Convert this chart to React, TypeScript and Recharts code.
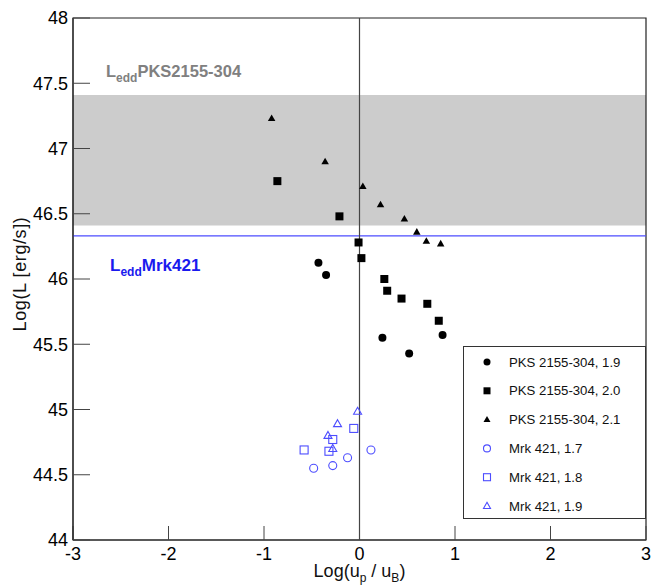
import { ScatterChart, Scatter, XAxis, YAxis, ReferenceArea, ReferenceLine, Legend, Label } from 'recharts';

const FONT = '"Liberation Sans", Arial, sans-serif';
const W = 652;
const H = 586;

// axis ticks: labelled majors, unlabelled minors
const X_MAJOR = [-3, -2, -1, 0, 1, 2, 3];
const Y_MAJOR = [44, 44.5, 45, 45.5, 46, 46.5, 47, 47.5, 48];
const X_MINOR = Array.from({ length: 31 }, (_, i) => +(-3 + i * 0.2).toFixed(1));
const Y_MINOR = Array.from({ length: 41 }, (_, i) => +(44 + i * 0.1).toFixed(1));
const X_DOMAIN = [-3, 3];
const Y_DOMAIN = [44, 48];

// Eddington luminosities
const LEDD_PKS_BAND = [46.41, 47.41];
const LEDD_MRK = 46.33;

// PKS 2155-304
const pks19 = [
  { x: -0.43, y: 46.125 }, { x: -0.35, y: 46.03 }, { x: 0.24, y: 45.55 },
  { x: 0.52, y: 45.43 }, { x: 0.87, y: 45.57 },
];
const pks20 = [
  { x: -0.86, y: 46.75 }, { x: -0.21, y: 46.48 }, { x: -0.01, y: 46.28 },
  { x: 0.02, y: 46.16 }, { x: 0.26, y: 46.0 }, { x: 0.29, y: 45.91 },
  { x: 0.44, y: 45.85 }, { x: 0.71, y: 45.81 }, { x: 0.83, y: 45.68 },
];
const pks21 = [
  { x: -0.92, y: 47.23 }, { x: -0.36, y: 46.9 }, { x: 0.035, y: 46.71 },
  { x: 0.22, y: 46.57 }, { x: 0.47, y: 46.46 }, { x: 0.6, y: 46.36 },
  { x: 0.7, y: 46.29 }, { x: 0.85, y: 46.27 },
];

// Mrk 421
const mrk17 = [
  { x: 0.12, y: 44.69 }, { x: -0.125, y: 44.63 }, { x: -0.28, y: 44.57 }, { x: -0.48, y: 44.55 },
];
const mrk18 = [
  { x: -0.06, y: 44.855 }, { x: -0.28, y: 44.77 }, { x: -0.58, y: 44.69 }, { x: -0.32, y: 44.68 },
];
const mrk19 = [
  { x: -0.02, y: 44.985 }, { x: -0.23, y: 44.89 }, { x: -0.33, y: 44.8 }, { x: -0.28, y: 44.7 },
];

const BLACK = '#000000';
const BLUE = '#4d4dff';
const TICK = '#444444';

const SERIES = [
  { name: 'PKS 2155-304, 1.9', data: pks19, kind: 'circle', color: BLACK, filled: true },
  { name: 'PKS 2155-304, 2.0', data: pks20, kind: 'square', color: BLACK, filled: true },
  { name: 'PKS 2155-304, 2.1', data: pks21, kind: 'triangle', color: BLACK, filled: true },
  { name: 'Mrk 421, 1.7', data: mrk17, kind: 'circle', color: BLUE, filled: false },
  { name: 'Mrk 421, 1.8', data: mrk18, kind: 'square', color: BLUE, filled: false },
  { name: 'Mrk 421, 1.9', data: mrk19, kind: 'triangle', color: BLUE, filled: false },
];

const Marker = ({ cx, cy, kind, color, filled, s = 8 }: any) => {
  const fill = filled ? color : 'none';
  const sw = filled ? 0 : 1.1;
  if (kind === 'circle') return <circle cx={cx} cy={cy} r={s / 2} fill={fill} stroke={color} strokeWidth={sw} />;
  if (kind === 'square') return <rect x={cx - s / 2} y={cy - s / 2} width={s} height={s} fill={fill} stroke={color} strokeWidth={sw} />;
  const h = s * 0.87;
  return (
    <polygon
      points={`${cx},${cy - h * 0.6} ${cx + s / 2},${cy + h * 0.4} ${cx - s / 2},${cy + h * 0.4}`}
      fill={fill} stroke={color} strokeWidth={sw}
    />
  );
};

const LegendBox = () => (
  <div style={{ width: 183, height: 173, border: '1px solid #333', background: '#fff', boxSizing: 'border-box' }}>
    <svg width={181} height={171}>
      {SERIES.map((s, i) => {
        const cy = 15 + i * 28.8;
        return (
          <g key={s.name}>
            <Marker cx={23} cy={cy} kind={s.kind} color={s.color} filled={s.filled} s={7} />
            <text x={45} y={cy} dy="0.35em" fontSize={13.2} fontFamily={FONT} fill="#111">{s.name}</text>
          </g>
        );
      })}
    </svg>
  </div>
);

const PksLabel = ({ viewBox }: any) => (
  <text x={viewBox.x + 33} y={viewBox.y - 18} fontFamily={FONT} fontWeight="bold" fontSize={16.5} fill="#808080">
    L<tspan fontSize={12} dy={5}>edd</tspan><tspan dy={-5}>PKS2155-304</tspan>
  </text>
);

const MrkLabel = ({ viewBox }: any) => (
  <text x={viewBox.x + 37} y={viewBox.y + 35} fontFamily={FONT} fontWeight="bold" fontSize={17} fill="#1a1aee">
    L<tspan fontSize={12} dy={5}>edd</tspan><tspan dy={-5}>Mrk421</tspan>
  </text>
);

const XTitle = ({ viewBox }: any) => (
  <text x={viewBox.x + viewBox.width / 2} y={577} textAnchor="middle" fontFamily={FONT} fontSize={18} fill="#111">
    Log(u<tspan fontSize={12} dy={5}>p</tspan><tspan dy={-5}> / u</tspan><tspan fontSize={12} dy={5}>B</tspan><tspan dy={-5}>)</tspan>
  </text>
);

const YTitle = ({ viewBox }: any) => {
  const cx = 20;
  const cy = viewBox.y + viewBox.height / 2 - 5;
  return (
    <text x={cx} y={cy} dy="0.35em" textAnchor="middle" transform={`rotate(-90, ${cx}, ${cy})`} fontFamily={FONT} fontSize={18} letterSpacing={0.6} fill="#111">
      Log(L [erg/s])
    </text>
  );
};

const layer = { position: 'absolute' as const, left: 0, top: 0, width: W, height: H };
const PLOT_MARGIN = { top: 18, right: 6, bottom: 46, left: 73 };
const AXIS_MARGIN = { top: 18, right: 6, bottom: 16, left: 13 };
const TICK_TEXT = { fontSize: 18, fill: '#000', fontFamily: FONT };

export default function App() {
  return (
    <div style={{ ...layer, background: '#fff' }}>
      {/* Eddington band, reference lines, frame */}
      <div style={layer}>
        <ScatterChart width={W} height={H} margin={PLOT_MARGIN}>
          <XAxis type="number" dataKey="x" domain={X_DOMAIN} allowDataOverflow hide />
          <YAxis type="number" dataKey="y" domain={Y_DOMAIN} allowDataOverflow hide />
          <ReferenceArea y1={LEDD_PKS_BAND[0]} y2={LEDD_PKS_BAND[1]} x1={-3} x2={3} fill="#cccccc" fillOpacity={1} stroke="none" label={<PksLabel />} />
          <ReferenceLine y={LEDD_MRK} stroke="#4d4dff" strokeWidth={1.2} label={<MrkLabel />} />
          <ReferenceLine x={0} stroke="#444" strokeWidth={1.2} />
          <ReferenceArea x1={-3} x2={3} y1={44} y2={48} fill="none" stroke="#222" strokeWidth={1.2} />
        </ScatterChart>
      </div>
      {/* markers and legend */}
      <div style={layer}>
        <ScatterChart width={W} height={H} margin={PLOT_MARGIN}>
          <XAxis type="number" dataKey="x" domain={X_DOMAIN} allowDataOverflow hide />
          <YAxis type="number" dataKey="y" domain={Y_DOMAIN} allowDataOverflow hide />
          {SERIES.map(s => (
            <Scatter
              key={s.name}
              name={s.name}
              data={s.data}
              fill={s.color}
              isAnimationActive={false}
              shape={(p: any) => <Marker cx={p.cx} cy={p.cy} kind={s.kind} color={s.color} filled={s.filled} s={s.filled && s.kind === 'triangle' ? 7.5 : 8} />}
            />
          ))}
          <Legend
            layout="vertical" align="center" verticalAlign="middle"
            wrapperStyle={{ left: 463, top: 346, width: 183, height: 173 }}
            content={<LegendBox />}
          />
        </ScatterChart>
      </div>
      {/* minor ticks, pointing inward */}
      <div style={layer}>
        <ScatterChart width={W} height={H} margin={AXIS_MARGIN}>
          <XAxis
            type="number" dataKey="x" domain={X_DOMAIN} allowDataOverflow ticks={X_MINOR} interval={0}
            tick={false} tickLine={{ stroke: TICK }} tickSize={-7} axisLine={false} height={30}
          />
          <YAxis
            type="number" dataKey="y" domain={Y_DOMAIN} allowDataOverflow ticks={Y_MINOR} interval={0}
            tick={false} tickLine={{ stroke: TICK }} tickSize={-8} axisLine={false} width={60}
          />
          <Scatter data={[]} isAnimationActive={false} />
        </ScatterChart>
      </div>
      {/* major ticks, tick labels and axis titles */}
      <div style={layer}>
        <ScatterChart width={W} height={H} margin={AXIS_MARGIN}>
          <XAxis
            type="number" dataKey="x" domain={X_DOMAIN} allowDataOverflow ticks={X_MAJOR} interval={0}
            tick={TICK_TEXT} tickLine={{ stroke: TICK }} tickSize={-14} tickMargin={21} height={30}
            axisLine={{ stroke: '#222' }}
          >
            <Label content={<XTitle />} />
          </XAxis>
          <YAxis
            type="number" dataKey="y" domain={Y_DOMAIN} allowDataOverflow ticks={Y_MAJOR} interval={0}
            tick={TICK_TEXT} tickLine={{ stroke: TICK }} tickSize={-17} tickMargin={22} width={60}
            axisLine={{ stroke: '#222' }}
          >
            <Label content={<YTitle />} />
          </YAxis>
          <Scatter data={[]} isAnimationActive={false} />
        </ScatterChart>
      </div>
    </div>
  );
}
